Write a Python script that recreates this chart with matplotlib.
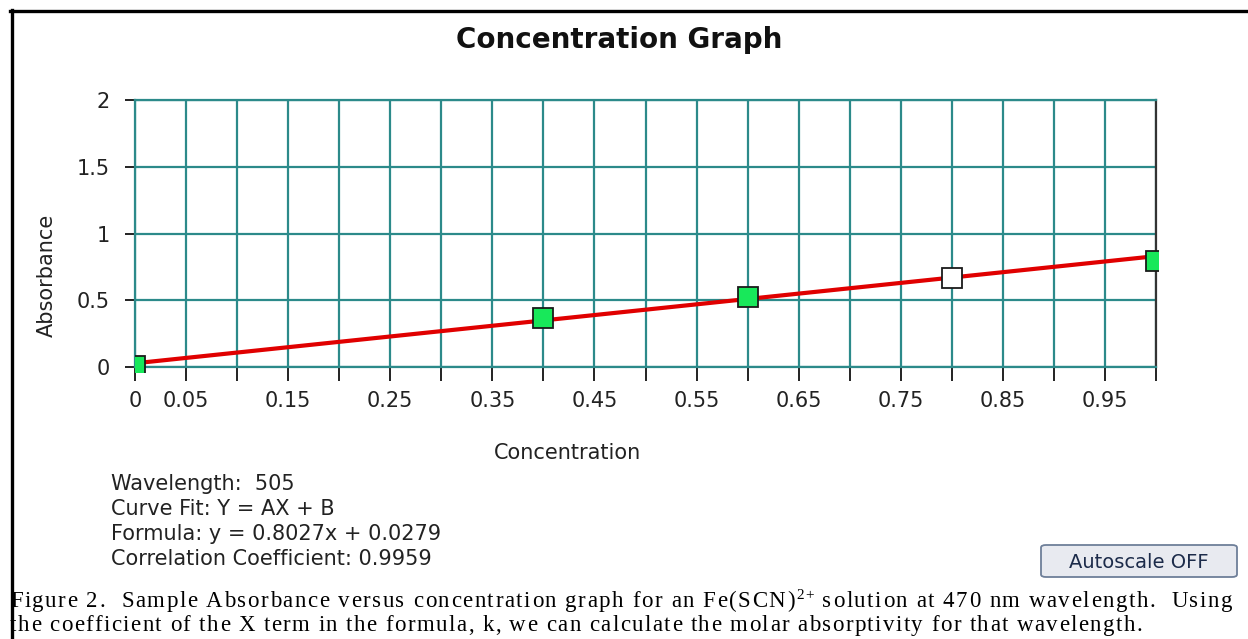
import matplotlib
matplotlib.use("Agg")
import matplotlib.pyplot as plt
import numpy as np
from matplotlib.patches import FancyBboxPatch, Rectangle
from matplotlib.lines import Line2D
from matplotlib.font_manager import FontProperties

# ---- data ----
conc = [0.0, 0.4, 0.6, 0.8, 1.0]
absorb = [0.01, 0.365, 0.525, 0.67, 0.795]
point_colors = ["#18E85A", "#18E85A", "#18E85A", "#FFFFFF", "#18E85A"]
fit_A = 0.8027
fit_B = 0.0279
x_ticks = [round(0.05 * i, 2) for i in range(21)]
x_tick_labels = ["0", "0.05", "", "0.15", "", "0.25", "", "0.35", "", "0.45", "",
                 "0.55", "", "0.65", "", "0.75", "", "0.85", "", "0.95", ""]
y_ticks = [0, 0.5, 1, 1.5, 2]
y_tick_labels = ["0", "0.5", "1", "1.5", "2"]
info_lines = ["Wavelength:  505", "Curve Fit: Y = AX + B",
              "Formula: y = 0.8027x + 0.0279", "Correlation Coefficient: 0.9959"]
# caption: list of (text, superscript?) segments per line
caption_lines = [
    [("Figure 2.  Sample Absorbance versus concentration graph for an Fe(SCN)", False),
     ("2+", True),
     (" solution at 470 nm wavelength.  Using", False)],
    [("the coefficient of the X term in the formula, k, we can calculate the molar absorptivity for that wavelength.", False)],
]
caption_line_ends = [1232, 1142]

plt.rcParams['font.family'] = ['DejaVu Sans']

W, H = 1248, 639
fig = plt.figure(figsize=(W / 100, H / 100), dpi=100)
fig.patch.set_facecolor("white")

def fx(px):
    return px / W

def fy(py):
    return 1 - py / H

ax = fig.add_axes([fx(135), fy(367), fx(1156) - fx(135), fy(100) - fy(367)])
ax.set_xlim(0, 1)
ax.set_ylim(0, 2)

grid_c = "#2C8A8A"
ax.set_xticks(x_ticks)
ax.set_xticklabels(x_tick_labels)
ax.set_yticks(y_ticks)
ax.set_yticklabels(y_tick_labels)
ax.grid(True, color=grid_c, linewidth=1.6)
ax.set_axisbelow(True)
ax.tick_params(axis="x", length=10, width=1.3, color="#111111", pad=7, labelsize=15, labelcolor="#222222")
ax.tick_params(axis="y", length=7, width=1.3, color="#111111", pad=11, labelsize=15, labelcolor="#222222")
for side in ["left", "top", "bottom"]:
    ax.spines[side].set_color(grid_c)
    ax.spines[side].set_linewidth(1.6)
ax.spines["right"].set_color("#333333")
ax.spines["right"].set_linewidth(1.6)

xs = np.array([0.0, 1.0])
ax.plot(xs, fit_A * xs + fit_B, color="#E00000", linewidth=3.0, zorder=3)
clip_rect = Rectangle((0.0, -0.02), 1.002, 1.02, transform=ax.transAxes,
                      facecolor="none", edgecolor="none")
ax.add_patch(clip_rect)
for x, y, c in zip(conc, absorb, point_colors):
    mk, = ax.plot([x], [y], marker="s", markersize=14, markerfacecolor=c,
                  markeredgecolor="#1A1A1A", markeredgewidth=1.3, linestyle="none", zorder=4)
    mk.set_clip_path(clip_rect)

ax.set_ylabel("Absorbance", fontsize=15, color="#222222")
ax.yaxis.set_label_coords(-0.086, 0.345)
ax.set_xlabel("Concentration", fontsize=15, color="#222222")
ax.xaxis.set_label_coords(0.424, -0.322)
ax.xaxis.label.set_va("center")
ax.yaxis.label.set_va("center")

fig.text(fx(619.5), fy(48), "Concentration Graph", ha="center", va="baseline",
         fontsize=20, fontweight="bold", color="#111111")

for i, line in enumerate(info_lines):
    fig.text(fx(111), fy(490 + 25 * i), line, ha="left", va="baseline",
             fontsize=15, color="#222222")

# button
btn = FancyBboxPatch((fx(1041), fy(577)), fx(1237) - fx(1041), fy(545) - fy(577),
                     boxstyle="round,pad=0,rounding_size=0.004", transform=fig.transFigure,
                     facecolor="#E8EAF0", edgecolor="#6E7F99", linewidth=1.3)
fig.patches.append(btn)
fig.text(fx(1139), fy(562), "Autoscale OFF", ha="center", va="center",
         fontsize=14, color="#1C2B4A")

# frame
fig.add_artist(Line2D([fx(11.5), fx(11.5)], [fy(10), fy(639)], transform=fig.transFigure,
                      color="black", linewidth=2.4))
fig.add_artist(Line2D([fx(10), fx(1248)], [fy(11), fy(11)], transform=fig.transFigure,
                      color="black", linewidth=2.4))

# caption with letter spacing (justified like the reference)
renderer = fig.canvas.get_renderer()
cap_size = 16.5
sup_size = 11
fp_main = FontProperties(family="Liberation Serif", size=cap_size)
fp_sup = FontProperties(family="Liberation Serif", size=sup_size)

def char_w(ch, fp):
    if ch == " ":
        w1 = renderer.get_text_width_height_descent("a a", fp, ismath=False)[0]
        w2 = renderer.get_text_width_height_descent("aa", fp, ismath=False)[0]
        return w1 - w2
    return renderer.get_text_width_height_descent(ch, fp, ismath=False)[0]

for li, segs in enumerate(caption_lines):
    chars = []
    for text, sup in segs:
        fp = fp_sup if sup else fp_main
        for ch in text:
            chars.append((ch, sup, fp, char_w(ch, fp)))
    natural = sum(c[3] for c in chars)
    start = 10
    ls = (caption_line_ends[li] - start - natural) / (len(chars) - 1)
    xpos = start
    base = 607 + 24 * li
    for ch, sup, fp, w in chars:
        if ch != " ":
            fig.text(fx(xpos), fy(base - (8 if sup else 0)), ch, ha="left", va="baseline",
                     fontproperties=fp, color="black")
        xpos += w + ls

fig.savefig("out.png", dpi=100, facecolor="white")
